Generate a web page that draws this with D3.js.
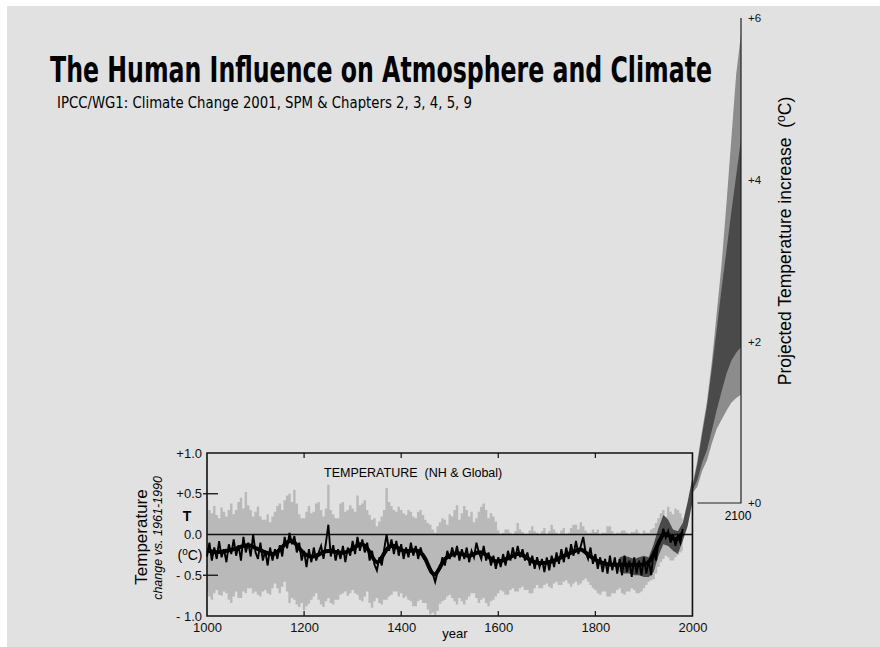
<!DOCTYPE html>
<html>
<head>
<meta charset="utf-8">
<script src="https://cdn.jsdelivr.net/npm/d3@7"></script>
<style>
  body { margin: 0; background: #fff; }
  svg { display: block; font-family: "Liberation Sans", Arial, Helvetica, sans-serif; }
  .axis text { font-size: 13px; fill: #111; }
  .axis path { display: none; }
</style>
</head>
<body>
<div id="vis"></div>
<script>
// ---- data ----
// 40-year smoothed reconstruction, every 10 years 1000-1980
var smoothYears = d3.range(1000, 1990, 10);
var smoothVals = [
  -0.19,-0.21,-0.22,-0.21,-0.20,-0.19,-0.17,-0.15,-0.13,-0.13,
  -0.17,-0.19,-0.22,-0.24,-0.24,-0.19,-0.12,-0.07,-0.09,-0.17,
  -0.24,-0.27,-0.27,-0.25,-0.21,-0.20,-0.21,-0.22,-0.23,-0.21,
  -0.18,-0.13,-0.11,-0.16,-0.27,-0.37,-0.29,-0.17,-0.13,-0.15,
  -0.19,-0.21,-0.20,-0.19,-0.21,-0.29,-0.45,-0.52,-0.40,-0.29,
  -0.26,-0.23,-0.23,-0.25,-0.27,-0.24,-0.21,-0.23,-0.27,-0.33,
  -0.33,-0.32,-0.29,-0.26,-0.23,-0.25,-0.29,-0.33,-0.35,-0.35,
  -0.35,-0.33,-0.31,-0.28,-0.25,-0.22,-0.20,-0.17,-0.22,-0.27,
  -0.31,-0.34,-0.36,-0.37,-0.37,-0.37,-0.37,-0.37,-0.37,-0.37,
  -0.37,-0.35,-0.25,-0.10,0.02,0.00,-0.06,-0.06,0.02
];

// reconstruction and its uncertainty envelope, every 5 years 1000-1980
var reconYears = d3.range(1000, 1985, 5);
var reconVals = [
  -0.27,-0.10,-0.32,-0.16,-0.30,-0.08,-0.28,-0.18,-0.34,-0.12,
  -0.24,-0.06,-0.26,-0.13,-0.32,-0.03,-0.22,-0.10,-0.27,0.00,
  -0.22,-0.30,-0.10,-0.32,-0.20,-0.38,-0.16,-0.32,-0.18,-0.30,
  -0.13,-0.27,-0.03,-0.17,0.02,-0.12,-0.02,-0.22,-0.10,-0.32,
  -0.20,-0.40,-0.18,-0.34,-0.16,-0.32,-0.22,-0.14,-0.30,-0.10,
  0.12,-0.27,-0.13,-0.32,-0.18,-0.30,-0.14,-0.34,-0.16,-0.26,
  -0.08,-0.24,-0.03,-0.20,-0.06,-0.22,-0.10,-0.32,-0.20,-0.37,
  -0.44,-0.28,-0.38,-0.18,0.00,-0.20,-0.06,-0.24,-0.08,-0.26,
  -0.12,-0.30,-0.16,-0.28,-0.10,-0.26,-0.14,-0.30,-0.16,-0.28,
  -0.32,-0.36,-0.46,-0.48,-0.58,-0.46,-0.42,-0.28,-0.38,-0.20,
  -0.30,-0.16,-0.28,-0.14,-0.32,-0.18,-0.30,-0.16,-0.34,-0.20,
  -0.28,-0.10,-0.22,-0.30,-0.14,-0.32,-0.22,-0.38,-0.26,-0.42,
  -0.28,-0.40,-0.24,-0.38,-0.20,-0.32,-0.16,-0.30,-0.14,-0.28,
  -0.18,-0.32,-0.22,-0.38,-0.26,-0.42,-0.28,-0.40,-0.30,-0.46,
  -0.28,-0.44,-0.26,-0.40,-0.22,-0.36,-0.18,-0.34,-0.16,-0.30,
  -0.12,-0.26,-0.08,-0.24,-0.14,-0.03,-0.22,-0.30,-0.16,-0.36,
  -0.24,-0.42,-0.28,-0.46,-0.30,-0.48,-0.26,-0.44,-0.28,-0.48,
  -0.30,-0.50,-0.26,-0.46,-0.32,-0.52,-0.28,-0.48,-0.32,-0.50,
  -0.28,-0.48,-0.32,-0.50,-0.20,-0.32,-0.08,-0.06,0.07,-0.04,
  0.04,-0.10,0.00,-0.14,-0.02,-0.10,0.07
];
var bandUpper = [
  0.42,0.30,0.26,0.35,0.24,0.20,0.33,0.28,0.22,0.30,
  0.38,0.25,0.30,0.40,0.45,0.32,0.52,0.36,0.30,0.22,
  0.28,0.34,0.22,0.18,0.18,0.25,0.15,0.22,0.28,0.35,
  0.38,0.30,0.42,0.48,0.50,0.40,0.55,0.38,0.25,0.20,
  0.20,0.28,0.35,0.26,0.28,0.38,0.40,0.30,0.22,0.32,
  0.61,0.30,0.25,0.20,0.20,0.38,0.40,0.28,0.30,0.36,
  0.32,0.28,0.48,0.36,0.38,0.42,0.30,0.24,0.18,0.20,
  0.10,0.16,0.22,0.30,0.57,0.40,0.35,0.30,0.28,0.34,
  0.30,0.26,0.24,0.30,0.28,0.22,0.20,0.28,0.30,0.24,
  0.18,0.14,0.12,0.06,0.02,0.10,0.15,0.20,0.18,0.12,
  0.25,0.22,0.30,0.36,0.18,0.26,0.35,0.30,0.22,0.28,
  0.15,0.20,0.28,0.34,0.38,0.30,0.20,0.26,0.22,0.16,
  0.05,0.00,0.02,0.06,0.06,0.02,0.00,0.04,0.14,0.06,
  0.03,0.00,0.00,0.05,0.10,0.04,0.02,0.00,0.04,0.08,
  0.00,0.04,0.12,0.06,0.02,0.00,0.05,0.08,0.00,0.02,
  0.08,0.12,0.12,0.06,0.15,0.10,0.05,0.02,0.02,0.06,
  0.03,0.06,0.00,0.02,0.02,0.10,0.10,0.04,0.00,0.02,
  0.02,0.05,0.05,0.02,0.00,0.03,0.03,0.06,0.02,0.00,
  0.05,0.02,0.02,0.06,0.08,0.14,0.20,0.26,0.30,0.22,
  0.34,0.28,0.25,0.32,0.30,0.26,0.20
];
var bandLower = [
  -0.70,-0.76,-0.80,-0.72,-0.68,-0.74,-0.75,-0.70,-0.72,-0.80,
  -0.84,-0.76,-0.70,-0.78,-0.78,-0.70,-0.72,-0.66,-0.66,-0.72,
  -0.70,-0.74,-0.76,-0.70,-0.68,-0.72,-0.74,-0.66,-0.60,-0.66,
  -0.72,-0.64,-0.58,-0.70,-0.84,-0.78,-0.80,-0.86,-0.89,-0.84,
  -0.93,-0.88,-0.85,-0.80,-0.76,-0.72,-0.80,-0.86,-0.89,-0.82,
  -0.78,-0.84,-0.86,-0.80,-0.80,-0.74,-0.72,-0.70,-0.75,-0.72,
  -0.68,-0.72,-0.74,-0.80,-0.82,-0.76,-0.70,-0.84,-0.90,-0.82,
  -0.78,-0.84,-0.86,-0.80,-0.80,-0.76,-0.74,-0.70,-0.70,-0.76,
  -0.72,-0.78,-0.76,-0.80,-0.82,-0.88,-0.88,-0.82,-0.80,-0.84,
  -0.84,-0.92,-0.98,-0.96,-0.99,-0.94,-0.85,-0.82,-0.80,-0.76,
  -0.74,-0.78,-0.82,-0.86,-0.78,-0.82,-0.86,-0.80,-0.76,-0.72,
  -0.72,-0.78,-0.84,-0.80,-0.78,-0.84,-0.88,-0.82,-0.80,-0.76,
  -0.72,-0.68,-0.70,-0.74,-0.74,-0.68,-0.66,-0.70,-0.70,-0.66,
  -0.64,-0.68,-0.68,-0.72,-0.72,-0.66,-0.62,-0.66,-0.66,-0.62,
  -0.60,-0.64,-0.66,-0.60,-0.58,-0.62,-0.62,-0.58,-0.56,-0.60,
  -0.64,-0.60,-0.58,-0.62,-0.60,-0.56,-0.54,-0.58,-0.62,-0.66,
  -0.68,-0.72,-0.74,-0.70,-0.70,-0.76,-0.76,-0.72,-0.72,-0.68,
  -0.66,-0.72,-0.74,-0.70,-0.70,-0.66,-0.68,-0.72,-0.72,-0.70,
  -0.66,-0.62,-0.58,-0.56,-0.55,-0.48,-0.40,-0.34,-0.30,-0.26,
  -0.28,-0.32,-0.32,-0.28,-0.25,-0.22,-0.20
];

// instrumental record range, every 10 years 1850-2000
var instYears = d3.range(1850, 2010, 10);
var instUpper = [-0.28,-0.26,-0.28,-0.30,-0.28,-0.26,-0.28,-0.12,0.08,0.24,0.18,0.06,0.04,0.14,0.40,0.70];
var instLower = [-0.46,-0.48,-0.48,-0.50,-0.50,-0.52,-0.52,-0.46,-0.26,-0.12,-0.14,-0.20,-0.24,-0.08,0.10,0.40];

// projections 2000-2100 (deg C increase)
var projYears = d3.range(2000, 2110, 10);
var projOuterUpper = [0.22,0.52,0.90,1.26,1.75,2.35,2.95,3.70,4.50,5.30,5.80];
var projDarkUpper  = [0.20,0.48,0.85,1.20,1.66,2.15,2.65,3.12,3.60,4.05,4.50];
var projDarkLower  = [0.15,0.28,0.50,0.66,0.90,1.15,1.38,1.60,1.76,1.86,1.93];
var projOuterLower = [0.12,0.20,0.40,0.53,0.74,0.92,1.03,1.14,1.24,1.30,1.34];

var yearTicks = [1000, 1200, 1400, 1600, 1800, 2000];
var tempTicks = [-1, -0.5, 0, 0.5, 1];
var tempTickLabels = ['- 1.0', '- 0.5', '0.0', '+0.5', '+1.0'];
var projTicks = [0, 2, 4, 6];

// ---- chart ----
var width = 880;
var height = 647;

var svg = d3.select('#vis')
            .append('svg')
            .attr('width', width)
            .attr('height', height);

svg.append('rect')
    .attr('x', 7).attr('y', 6)
    .attr('width', width - 7).attr('height', height - 6)
    .attr('fill', '#e1e1e1');

var x = d3.scaleLinear().domain([1000, 2100]).range([207, 741]);
var yT = d3.scaleLinear().domain([-1, 1]).range([616, 453]);
var yP = d3.scaleLinear().domain([0, 6]).range([503, 18]);

// uncertainty band
var band = reconYears.map(function(d, i) { return {year: d, lo: bandLower[i], hi: bandUpper[i]}; });
svg.append('path')
    .datum(band)
    .attr('fill', '#b9b9b9')
    .attr('d', d3.area()
        .curve(d3.curveStep)
        .x(function(d) { return x(d.year); })
        .y0(function(d) { return yT(d.lo); })
        .y1(function(d) { return yT(d.hi); }));

// instrumental range
var inst = instYears.map(function(d, i) { return {year: d, lo: instLower[i], hi: instUpper[i]}; });
svg.append('path')
    .datum(inst)
    .attr('fill', '#4a4a4a')
    .attr('d', d3.area()
        .x(function(d) { return x(d.year); })
        .y0(function(d) { return yT(d.lo); })
        .y1(function(d) { return yT(d.hi); }));

// projection fan
function fanArea(lo, hi) {
    var pts = projYears.map(function(d, i) { return {year: d, lo: lo[i], hi: hi[i]}; });
    return d3.area()
        .x(function(d) { return x(d.year); })
        .y0(function(d) { return yP(d.lo); })
        .y1(function(d) { return yP(d.hi); })(pts);
}
svg.append('path').attr('d', fanArea(projOuterLower, projOuterUpper)).attr('fill', '#8c8c8c');
svg.append('path').attr('d', fanArea(projDarkLower, projDarkUpper)).attr('fill', '#4a4a4a');

// box and zero line
svg.append('path')
    .attr('d', 'M' + x(1000) + ',' + yT(1) + 'H' + x(2000) + 'V' + yT(-1) + 'H' + x(1000) + 'Z')
    .attr('fill', 'none')
    .attr('stroke', '#111')
    .attr('stroke-width', 1.6);
svg.append('line')
    .attr('x1', x(1000)).attr('x2', x(2000))
    .attr('y1', yT(0)).attr('y2', yT(0))
    .attr('stroke', '#111').attr('stroke-width', 1.5);

// reconstruction lines
var recon = reconYears.map(function(d, i) { return {year: d, v: reconVals[i]}; });
svg.append('path')
    .datum(recon)
    .attr('fill', 'none')
    .attr('stroke', '#000')
    .attr('stroke-width', 1.9)
    .attr('d', d3.line()
        .x(function(d) { return x(d.year); })
        .y(function(d) { return yT(d.v); }));

var smooth = smoothYears.map(function(d, i) { return {year: d, v: smoothVals[i]}; });
svg.append('path')
    .datum(smooth)
    .attr('fill', 'none')
    .attr('stroke', '#000')
    .attr('stroke-width', 4)
    .attr('stroke-linejoin', 'round')
    .attr('d', d3.line()
        .curve(d3.curveBasis)
        .x(function(d) { return x(d.year); })
        .y(function(d) { return yT(d.v); }));

// inward ticks on the box
[1200, 1400, 1600, 1800].forEach(function(t) {
    svg.append('line').attr('x1', x(t)).attr('x2', x(t)).attr('y1', yT(1)).attr('y2', yT(1) + 5)
        .attr('stroke', '#111').attr('stroke-width', 1.2);
    svg.append('line').attr('x1', x(t)).attr('x2', x(t)).attr('y1', yT(-1)).attr('y2', yT(-1) - 5)
        .attr('stroke', '#111').attr('stroke-width', 1.2);
});
[-0.5, 0.5].forEach(function(t) {
    svg.append('line').attr('x1', x(1000) - 4).attr('x2', x(1000) + 11).attr('y1', yT(t)).attr('y2', yT(t))
        .attr('stroke', '#111').attr('stroke-width', 1.3);
});

// axes
var xAxis = d3.axisBottom(x).tickValues(yearTicks).tickSize(0).tickPadding(7)
    .tickFormat(d3.format('d'));
svg.append('g')
    .attr('class', 'axis')
    .attr('transform', 'translate(0,' + yT(-1) + ')')
    .call(xAxis);

var yAxis = d3.axisLeft(yT).tickValues(tempTicks).tickSize(0).tickPadding(5)
    .tickFormat(function(d, i) { return tempTickLabels[i]; });
svg.append('g')
    .attr('class', 'axis')
    .attr('transform', 'translate(' + x(1000) + ',0)')
    .call(yAxis);

var pAxis = d3.axisRight(yP).tickValues(projTicks).tickSize(0).tickPadding(7)
    .tickFormat(function(d) { return '+' + d; });
svg.append('g')
    .attr('class', 'axis proj')
    .attr('transform', 'translate(' + x(2100) + ',0)')
    .call(pAxis)
    .selectAll('text').style('font-size', '11.5px');

svg.append('path')
    .attr('d', 'M' + (x(2000) + 5) + ',' + yP(0) + 'H' + x(2100) + 'V' + yP(6))
    .attr('fill', 'none')
    .attr('stroke', '#222')
    .attr('stroke-width', 1.2);

svg.append('text')
    .attr('x', x(2100) - 3).attr('y', yP(0) + 17)
    .attr('text-anchor', 'middle')
    .style('font-size', '12px')
    .text('2100');

// labels
var narrow = '"Liberation Sans Narrow", "Arial Narrow", "DejaVu Sans Condensed", "Liberation Sans", sans-serif';
svg.append('g')
    .attr('transform', 'translate(50,82) scale(1,1.13)')
  .append('text')
    .attr('x', 0).attr('y', 0)
    .attr('textLength', 662)
    .attr('lengthAdjust', 'spacingAndGlyphs')
    .style('font-family', narrow)
    .style('font-weight', 'bold')
    .style('font-size', '31px')
    .text('The Human Influence on Atmosphere and Climate');

svg.append('text')
    .attr('x', 57).attr('y', 108)
    .attr('textLength', 415)
    .attr('lengthAdjust', 'spacingAndGlyphs')
    .style('font-family', narrow)
    .style('font-size', '15px')
    .text('IPCC/WG1: Climate Change 2001, SPM & Chapters 2, 3, 4, 5, 9');

svg.append('text')
    .attr('x', 324).attr('y', 477)
    .style('font-size', '12.5px')
    .style('white-space', 'pre')
    .text('TEMPERATURE  (NH & Global)');

svg.append('text')
    .attr('x', 187).attr('y', 521)
    .attr('text-anchor', 'middle')
    .style('font-size', '14px')
    .style('font-weight', 'bold')
    .text('T');

var degC = svg.append('text')
    .attr('x', 190).attr('y', 560)
    .attr('text-anchor', 'middle')
    .style('font-size', '14px');
degC.append('tspan').text('(');
degC.append('tspan').attr('dy', -5).style('font-size', '10px').text('o');
degC.append('tspan').attr('dy', 5).text('C)');

svg.append('text')
    .attr('transform', 'translate(147,537) rotate(-90)')
    .attr('text-anchor', 'middle')
    .style('font-size', '17px')
    .text('Temperature');

svg.append('text')
    .attr('transform', 'translate(162,538) rotate(-90)')
    .attr('text-anchor', 'middle')
    .style('font-size', '12.5px')
    .style('font-style', 'italic')
    .text('change vs. 1961-1990');

svg.append('text')
    .attr('x', 455).attr('y', 638)
    .attr('text-anchor', 'middle')
    .style('font-size', '13px')
    .text('year');

var projLabel = svg.append('text')
    .attr('transform', 'translate(791,241) rotate(-90)')
    .attr('text-anchor', 'middle')
    .style('font-size', '17.5px')
    .style('white-space', 'pre');
projLabel.append('tspan').text('Projected Temperature increase  (');
projLabel.append('tspan').attr('dy', -6).style('font-size', '12px').text('o');
projLabel.append('tspan').attr('dy', 6).text('C)');
</script>
</body>
</html>
